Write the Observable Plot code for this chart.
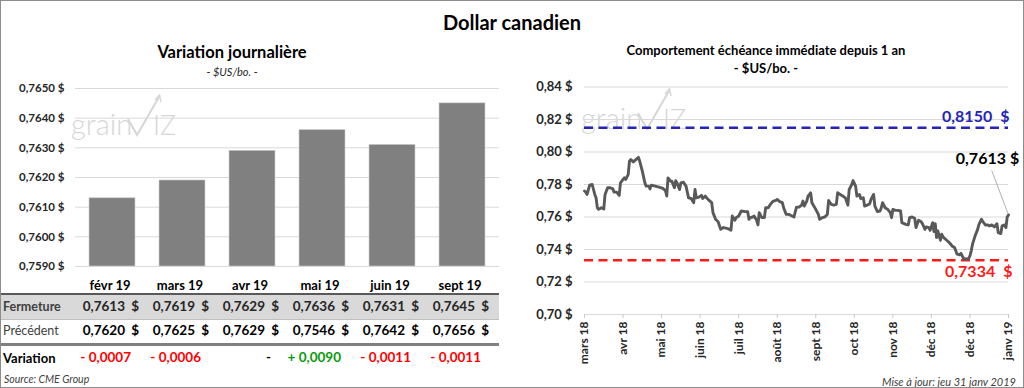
<!DOCTYPE html>
<html><head><meta charset="utf-8">
<script src="https://cdn.jsdelivr.net/npm/d3@7"></script>
<script src="https://cdn.jsdelivr.net/npm/@observablehq/plot@0.6"></script>
<style>
body{margin:0;background:#fff;font-family:Lato,"Open Sans",sans-serif;}
#root{position:relative;width:1024px;height:388px;overflow:hidden;background:#fff;}
.abs{position:absolute;white-space:pre;line-height:1;}
.plotbox{position:absolute;}
.plotbox svg{background:transparent !important;overflow:visible;}
</style></head><body><div id="root"></div>
<script>
// ---------- data ----------
const months = ["févr 19","mars 19","avr 19","mai 19","juin 19","sept 19"];
const closeVals = [0.7613,0.7619,0.7629,0.7636,0.7631,0.7645];
const prevVals  = [0.7620,0.7625,0.7629,0.7546,0.7642,0.7656];
const leftTicks = [0.7590,0.7600,0.7610,0.7620,0.7630,0.7640,0.7650];
const rightTicks = [0.70,0.72,0.74,0.76,0.78,0.80,0.82,0.84];
const xTickDates = ["2018-03-06","2018-04-05","2018-05-05","2018-06-04","2018-07-04","2018-08-03","2018-09-02","2018-10-02","2018-11-01","2018-12-01","2018-12-31","2019-01-30"];
const xTickLabels = ["mars 18","avr 18","mai 18","juin 18","juil 18","août 18","sept 18","oct 18","nov 18","déc 18","déc 18","janv 19"];
const highLevel = 0.8150;
const lowLevel = 0.7334;
const seriesDates = [
"2018-03-06","2018-03-07","2018-03-08","2018-03-10","2018-03-12","2018-03-14","2018-03-15","2018-03-16","2018-03-17","2018-03-19","2018-03-21","2018-03-22","2018-03-24","2018-03-26","2018-03-28","2018-03-29","2018-03-31",
"2018-04-02","2018-04-03","2018-04-05","2018-04-06","2018-04-07","2018-04-09","2018-04-10","2018-04-11","2018-04-13","2018-04-15","2018-04-17","2018-04-18","2018-04-20","2018-04-22","2018-04-23","2018-04-25","2018-04-26","2018-04-27","2018-04-30",
"2018-05-03","2018-05-06","2018-05-08","2018-05-09","2018-05-10","2018-05-12","2018-05-13","2018-05-15","2018-05-16","2018-05-17","2018-05-19","2018-05-20","2018-05-22","2018-05-24","2018-05-26","2018-05-28","2018-05-30","2018-05-31",
"2018-06-01","2018-06-03","2018-06-05","2018-06-06","2018-06-08","2018-06-09","2018-06-11","2018-06-13","2018-06-14","2018-06-16","2018-06-18","2018-06-20","2018-06-22","2018-06-24","2018-06-26","2018-06-28","2018-06-29",
"2018-07-01","2018-07-02","2018-07-04","2018-07-06","2018-07-09","2018-07-11","2018-07-12","2018-07-13","2018-07-15","2018-07-16","2018-07-18","2018-07-19","2018-07-20","2018-07-22","2018-07-24","2018-07-25","2018-07-27","2018-07-29","2018-07-31",
"2018-08-02","2018-08-03","2018-08-05","2018-08-07","2018-08-08","2018-08-10","2018-08-12","2018-08-13","2018-08-16","2018-08-18","2018-08-20","2018-08-22","2018-08-23","2018-08-24","2018-08-26","2018-08-27","2018-08-29","2018-08-30",
"2018-09-02","2018-09-04","2018-09-05","2018-09-07","2018-09-09","2018-09-11","2018-09-12","2018-09-14","2018-09-16","2018-09-18","2018-09-19","2018-09-21","2018-09-23","2018-09-25","2018-09-27","2018-09-28","2018-09-30",
"2018-10-01","2018-10-03","2018-10-04","2018-10-06","2018-10-07","2018-10-09","2018-10-10","2018-10-12","2018-10-14","2018-10-15","2018-10-17","2018-10-18","2018-10-20","2018-10-22","2018-10-23","2018-10-24","2018-10-26","2018-10-28","2018-10-30","2018-10-31",
"2018-11-01","2018-11-03","2018-11-05","2018-11-07","2018-11-08","2018-11-11","2018-11-13","2018-11-14","2018-11-16","2018-11-18","2018-11-19","2018-11-21","2018-11-23","2018-11-24","2018-11-26","2018-11-27","2018-11-29","2018-11-30",
"2018-12-02","2018-12-03","2018-12-04","2018-12-05","2018-12-06","2018-12-08","2018-12-09","2018-12-10","2018-12-12","2018-12-14","2018-12-16","2018-12-17","2018-12-19","2018-12-21","2018-12-23","2018-12-24","2018-12-26","2018-12-28","2018-12-30","2018-12-31",
"2019-01-01","2019-01-02","2019-01-04","2019-01-06","2019-01-07","2019-01-09","2019-01-10","2019-01-12","2019-01-14","2019-01-15","2019-01-17","2019-01-19","2019-01-21","2019-01-22","2019-01-24","2019-01-25","2019-01-27","2019-01-28","2019-01-29","2019-01-30"];
const seriesValues = [
0.7760,0.7753,0.7739,0.7796,0.7800,0.7739,0.7718,0.7657,0.7647,0.7657,0.7649,0.7739,0.7780,0.7780,0.7773,0.7753,0.7753,
0.7733,0.7810,0.7831,0.7841,0.7831,0.7861,0.7943,0.7953,0.7939,0.7953,0.7967,0.7943,0.7882,0.7810,0.7790,0.7790,0.7773,0.7796,0.7790,
0.7784,0.7776,0.7763,0.7729,0.7841,0.7820,0.7820,0.7780,0.7824,0.7810,0.7769,0.7810,0.7814,0.7790,0.7718,0.7714,0.7688,0.7769,
0.7718,0.7722,0.7733,0.7714,0.7729,0.7718,0.7702,0.7688,0.7627,0.7586,0.7571,0.7524,0.7535,0.7531,0.7527,0.7518,0.7606,
0.7580,0.7596,0.7606,0.7637,0.7633,0.7633,0.7586,0.7596,0.7600,0.7606,0.7580,0.7551,0.7627,0.7596,0.7596,0.7657,0.7657,0.7682,0.7698,
0.7702,0.7708,0.7694,0.7688,0.7657,0.7616,0.7616,0.7612,0.7600,0.7661,0.7661,0.7673,0.7698,0.7667,0.7698,0.7729,0.7749,0.7688,
0.7647,0.7616,0.7586,0.7596,0.7600,0.7616,0.7702,0.7678,0.7673,0.7678,0.7749,0.7739,0.7729,0.7718,0.7673,0.7769,0.7800,
0.7824,0.7790,0.7729,0.7739,0.7714,0.7718,0.7667,0.7673,0.7682,0.7708,0.7739,0.7667,0.7633,0.7637,0.7657,0.7688,0.7657,0.7647,0.7627,0.7596,
0.7647,0.7641,0.7641,0.7637,0.7565,0.7555,0.7551,0.7596,0.7600,0.7592,0.7535,0.7580,0.7571,0.7559,0.7524,0.7539,0.7535,0.7518,
0.7565,0.7510,0.7559,0.7473,0.7514,0.7457,0.7494,0.7478,0.7463,0.7449,0.7433,0.7422,0.7412,0.7371,0.7367,0.7376,0.7345,0.7340,0.7345,0.7361,
0.7392,0.7433,0.7484,0.7524,0.7555,0.7586,0.7571,0.7551,0.7551,0.7545,0.7551,0.7539,0.7559,0.7504,0.7498,0.7545,0.7551,0.7535,0.7600,0.7613];

// ---------- helpers ----------
const root = document.getElementById("root");
const fmt4 = v => v.toFixed(4).replace(".", ",");
const fmt2 = v => v.toFixed(2).replace(".", ",");
function addText(txt, x, y, o = {}) {
  const d = document.createElement("div");
  d.className = "abs";
  d.textContent = txt;
  const a = o.anchor || "middle";
  d.style.left = x + "px"; d.style.top = y + "px";
  d.style.transform = `translate(${a === "middle" ? "-50%" : a === "end" ? "-100%" : "0"},-50%)`;
  d.style.fontSize = (o.size || 12) + "px";
  d.style.fontWeight = o.weight || "normal";
  d.style.fontStyle = o.italic ? "italic" : "normal";
  d.style.color = o.color || "#000";
  root.appendChild(d);
  return d;
}
function addRect(x, y, w, h, color) {
  const d = document.createElement("div");
  d.style.cssText = `position:absolute;left:${x}px;top:${y}px;width:${w}px;height:${h}px;background:${color};`;
  root.appendChild(d);
}
function watermark(x, y) {
  const d = document.createElement("div");
  d.style.cssText = `position:absolute;left:${x}px;top:${y}px;width:120px;height:50px;pointer-events:none;`;
  d.innerHTML = `<svg width="120" height="50" viewBox="0 0 120 50">
    <text x="0" y="41" font-family="Lato" font-size="29" font-weight="300" fill="#d6d6d6">grain</text>
    <path d="M57,25 L66,41 L88,3" fill="none" stroke="#d6d6d6" stroke-width="2"/>
    <path d="M84,6 L88.5,1 L90,8" fill="none" stroke="#d6d6d6" stroke-width="1.5"/>
    <text x="82" y="41" font-family="Lato" font-size="27" font-weight="300" fill="#d6d6d6">IZ</text>
  </svg>`;
  root.appendChild(d);
}

// ---------- frame & titles ----------
watermark(71, 94);
watermark(581, 88);
addText("Dollar canadien", 512, 22, {size: 20, weight: "bold"});
addText("Variation journalière", 232, 52, {size: 16.5, weight: "bold"});
addText("- $US/bo. -", 232, 71, {size: 11, italic: true, color: "#262626"});
addText("Comportement échéance immédiate depuis 1 an", 766, 50, {size: 13, weight: "bold"});
addText("- $US/bo. -", 766, 68, {size: 13, weight: "bold"});

// ---------- left bar chart ----------
const barData = months.map((m, i) => ({month: m, value: closeVals[i]}));
const leftDomain = [leftTicks[0], leftTicks[leftTicks.length - 1]];
const left = Plot.plot({
  width: 512, height: 190,
  marginTop: 10, marginBottom: 2, marginLeft: 75, marginRight: 13,
  style: {fontFamily: "Lato", color: "#262626", background: "transparent"},
  x: {domain: months, paddingInner: 0.34, paddingOuter: 0.17, axis: null},
  y: {domain: leftDomain, axis: null},
  marks: [
    Plot.gridY(leftTicks, {stroke: "#d9d9d9", strokeOpacity: 1}),
    Plot.axisY(leftTicks, {tickFormat: d => fmt4(d) + " $", tickSize: 0, tickPadding: 11, fontSize: 11.5, fontWeight: "bold", label: null}),
    Plot.barY(barData, {x: "month", y1: () => leftDomain[0], y2: "value", fill: "#808080", stroke: "#cfcfcf", strokeWidth: 0.6})
  ]
});
const lbox = document.createElement("div");
lbox.className = "plotbox"; lbox.style.left = "0px"; lbox.style.top = "78px";
lbox.appendChild(left); root.appendChild(lbox);

// ---------- table under the bars ----------
const xs = left.scale("x");
const bw = xs.bandwidth;
addRect(0, 292.5, 499, 2, "#595959");
addRect(0, 294.5, 499, 24, "#d9d9d9");
addRect(0, 318.5, 499, 1, "#bfbfbf");
addRect(0, 342.5, 499, 3, "#808080");
addText("Fermeture", 3, 306.5, {anchor: "start", size: 12.5, weight: "bold", color: "#404040"});
addText("Précédent", 3, 331, {anchor: "start", size: 12.5, color: "#404040"});
addText("Variation", 3, 357.5, {anchor: "start", size: 13, weight: "bold"});
months.forEach((m, i) => {
  const x0 = xs.apply(m), right = x0 + bw, center = x0 + bw / 2;
  addText(m, center - 2, 285, {size: 13, weight: "bold"});
  addText(fmt4(closeVals[i]), right - 10, 306.5, {anchor: "end", size: 13.5, weight: "bold", color: "#262626"});
  addText("$", right + 4, 306.5, {anchor: "end", size: 13.5, weight: "bold", color: "#262626"});
  addText(fmt4(prevVals[i]), right - 10, 331, {anchor: "end", size: 13.5, weight: "bold"});
  addText("$", right + 4, 331, {anchor: "end", size: 13.5, weight: "bold"});
  const diff = Math.round((closeVals[i] - prevVals[i]) * 10000) / 10000;
  const txt = diff === 0 ? "-" : (diff > 0 ? "+ " : "- ") + fmt4(Math.abs(diff));
  const col = diff === 0 ? "#000" : diff > 0 ? "#0a9a0a" : "#ff0000";
  addText(txt, right - 4, 357.5, {anchor: "end", size: 13.5, weight: "bold", color: col});
});
addText("Source: CME Group", 4, 379, {anchor: "start", size: 10.5, italic: true, color: "#404040"});

// ---------- right line chart ----------
const series = seriesDates.map((d, i) => ({date: new Date(d), value: seriesValues[i]}));
const tickDates = xTickDates.map(d => new Date(d));
const tickLabelMap = new Map(tickDates.map((d, i) => [+d, xTickLabels[i]]));
const last = series[series.length - 1];
const endDate = tickDates[tickDates.length - 1];
const right = Plot.plot({
  width: 512, height: 290,
  marginTop: 8.5, marginBottom: 54, marginLeft: 72, marginRight: 16,
  style: {fontFamily: "Lato", color: "#262626", background: "transparent"},
  x: {type: "utc", domain: [tickDates[0], endDate], axis: null},
  y: {domain: [rightTicks[0], rightTicks[rightTicks.length - 1]], axis: null},
  marks: [
    Plot.gridY(rightTicks, {stroke: "#d9d9d9", strokeOpacity: 1}),
    Plot.axisY(rightTicks, {tickFormat: d => fmt2(d) + " $", tickSize: 0, tickPadding: 12, fontSize: 13, fontWeight: "bold", label: null}),
    Plot.axisX(tickDates, {tickFormat: d => tickLabelMap.get(+d), tickRotate: -90, tickSize: 4, tickPadding: 3, stroke: "#c8c8c8", fontSize: 12, fontWeight: "bold", label: null}),
    Plot.ruleY([highLevel], {stroke: "#2424b8", strokeWidth: 2.5, strokeDasharray: "9,5.5"}),
    Plot.ruleY([lowLevel], {stroke: "#ff1a1a", strokeWidth: 2.5, strokeDasharray: "9,5.5"}),
    Plot.lineY(series, {x: "date", y: "value", stroke: "#595959", strokeWidth: 2.9}),
    Plot.text([{date: endDate, value: highLevel}], {x: "date", y: "value", text: d => fmt4(d.value) + "\u2002$", textAnchor: "end", dx: 1, dy: -11, fill: "#2424b8", fontSize: 16, fontWeight: "bold"}),
    Plot.text([{date: endDate, value: lowLevel}], {x: "date", y: "value", text: d => fmt4(d.value) + "\u2002$", textAnchor: "end", dx: 4, dy: 12, fill: "#ff1a1a", fontSize: 16, fontWeight: "bold"}),
    Plot.vector([last], {x: "date", y: "value", length: 47, rotate: -20.7, anchor: "start", stroke: "#a6a6a6", strokeWidth: 0.8,
      shape: {draw(ctx, l) { ctx.moveTo(0, -2); ctx.lineTo(0, -l); }}}),
    Plot.text([last], {x: "date", y: "value", text: d => fmt4(d.value) + " $", dx: -21, dy: -56, fill: "#000", fontSize: 16, fontWeight: "bold"})
  ]
});
const rbox = document.createElement("div");
rbox.className = "plotbox"; rbox.style.left = "512px"; rbox.style.top = "78px";
rbox.appendChild(right); root.appendChild(rbox);

addText("Mise à jour: jeu 31 janv 2019", 1016, 381, {anchor: "end", size: 11, italic: true, color: "#404040"});

// outer border
const b = document.createElement("div");
b.style.cssText = "position:absolute;left:0;top:0;width:1024px;height:388px;box-sizing:border-box;border:1px solid #8c8c8c;pointer-events:none;";
root.appendChild(b);
</script></body></html>
